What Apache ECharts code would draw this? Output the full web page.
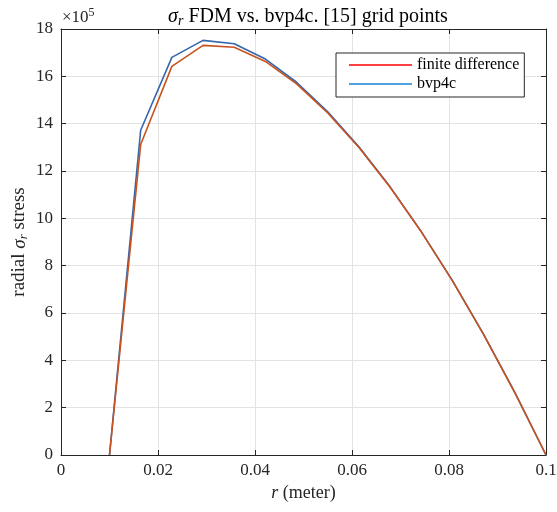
<!DOCTYPE html>
<html>
<head>
<meta charset="utf-8">
<script src="https://cdn.jsdelivr.net/npm/echarts@6/dist/echarts.min.js"></script>
<style>html,body{margin:0;padding:0;background:#fff}#c{width:557px;height:512px}</style>
</head>
<body>
<div id="c"></div>
<script>
// radial grid points (meter)
const rPoints = [0.01, 0.016429, 0.022857, 0.029286, 0.035714, 0.042143, 0.048571, 0.055, 0.061429, 0.067857, 0.074286, 0.080714, 0.087143, 0.093571, 0.1];
// radial stress, units of 1e5
const fdmValues = [0, 13.12, 16.42, 17.31, 17.23, 16.63, 15.68, 14.45, 12.99, 11.31, 9.43, 7.36, 5.09, 2.64, 0];
const bvpValues = [0, 13.72, 16.80, 17.52, 17.38, 16.73, 15.75, 14.50, 13.02, 11.33, 9.44, 7.37, 5.10, 2.65, 0];
const xTicks = [0, 0.02, 0.04, 0.06, 0.08, 0.1];
const yTicks = [0, 2, 4, 6, 8, 10, 12, 14, 16, 18];
const seriesNames = ['finite difference', 'bvp4c'];

const FONT = 'Liberation Serif';
const AX = '#262626';
const GRIDC = '#e3e3e3';

const chart = echarts.init(document.getElementById('c'), null, {renderer: 'canvas'});

function xAx(pos, main) {
  return {
    type: 'value', position: pos, min: xTicks[0], max: xTicks[xTicks.length - 1], interval: 0.02,
    axisLine: {show: true, onZero: false, lineStyle: {color: AX, width: 1}},
    axisTick: {show: true, inside: true, length: 5, lineStyle: {color: AX}},
    axisLabel: {show: main, color: AX, fontFamily: FONT, fontSize: 17, margin: 7,
      formatter: v => String(+v.toFixed(2))},
    splitLine: {show: main, lineStyle: {color: GRIDC, width: 1}},
    name: main ? '{i|r} (meter)' : '', nameLocation: 'middle', nameGap: 29,
    nameTextStyle: {color: AX, fontFamily: FONT, fontSize: 18,
      rich: {i: {fontStyle: 'italic', fontFamily: FONT, fontSize: 18, color: AX}}}
  };
}
function yAx(pos, main) {
  return {
    type: 'value', position: pos, min: yTicks[0], max: yTicks[yTicks.length - 1], interval: 2,
    axisLine: {show: true, onZero: false, lineStyle: {color: AX, width: 1}},
    axisTick: {show: true, inside: true, length: 5, lineStyle: {color: AX}},
    axisLabel: {show: main, color: AX, fontFamily: FONT, fontSize: 17, margin: 8},
    splitLine: {show: main, lineStyle: {color: GRIDC, width: 1}},
    name: main ? 'radial {i|σ}{s|r} stress' : '', nameLocation: 'middle', nameGap: 31, nameRotate: 90,
    nameMoveOverlap: false,
    nameTextStyle: {color: AX, fontFamily: FONT, fontSize: 19,
      rich: {i: {fontStyle: 'italic', fontFamily: FONT, fontSize: 19, color: AX},
             s: {fontStyle: 'italic', fontFamily: FONT, fontSize: 13, color: AX, padding: [8, 0, 0, 0]}}}
  };
}

const option = {
  backgroundColor: '#fff',
  animation: false,
  grid: {left: 61, right: 11, top: 29, bottom: 57, containLabel: false, outerBoundsMode: 'none'},
  title: {
    text: '{i|σ}{s|r}{n| FDM vs. bvp4c. [15] grid points}',
    left: 303, textAlign: 'center', top: 0,
    textStyle: {fontFamily: FONT, fontSize: 20, fontWeight: 'normal', color: '#000',
      rich: {i: {fontStyle: 'italic', fontFamily: FONT, fontSize: 20, color: '#000'},
             s: {fontStyle: 'italic', fontFamily: FONT, fontSize: 14, color: '#000', padding: [9, 0, 0, 0]},
             n: {fontFamily: FONT, fontSize: 20, color: '#000'}}}
  },
  legend: {
    orient: 'vertical', left: 336, top: 53,
    padding: [4, 5, 5, 13], itemGap: 3, itemWidth: 63, itemHeight: 14,
    backgroundColor: '#fff', borderColor: '#262626', borderWidth: 1, borderRadius: 0,
    textStyle: {fontFamily: FONT, fontSize: 16, color: '#000'},
    data: [
      {name: seriesNames[0], icon: 'path://M0,0 L63,0 L63,1.5 L0,1.5 Z', itemStyle: {color: '#ff0000'}},
      {name: seriesNames[1], icon: 'path://M0,0 L63,0 L63,2 L0,2 Z', itemStyle: {color: '#4ea2de'}}
    ]
  },
  xAxis: [xAx('bottom', true), xAx('top', false)],
  yAxis: [yAx('left', true), yAx('right', false)],
  graphic: [{
    type: 'text', left: 62, top: 7,
    style: {text: '{a|×10}{b|5}', rich: {
      a: {fontFamily: FONT, fontSize: 17, fill: AX, color: AX},
      b: {fontFamily: FONT, fontSize: 12, fill: AX, color: AX, padding: [0, 0, 9, 0]}
    }}
  }],
  series: [
    {name: seriesNames[1], type: 'line', symbol: 'none', xAxisIndex: 0, yAxisIndex: 0,
     data: rPoints.map((r, i) => [r, bvpValues[i]]),
     lineStyle: {color: '#3566ab', width: 1.6}, itemStyle: {color: '#4ea2de'}},
    {name: seriesNames[0], type: 'line', symbol: 'none', xAxisIndex: 0, yAxisIndex: 0,
     data: rPoints.map((r, i) => [r, fdmValues[i]]),
     lineStyle: {color: '#c9521d', width: 1.6}, itemStyle: {color: '#ff0000'}}
  ]
};
chart.setOption(option);
</script>
</body>
</html>
